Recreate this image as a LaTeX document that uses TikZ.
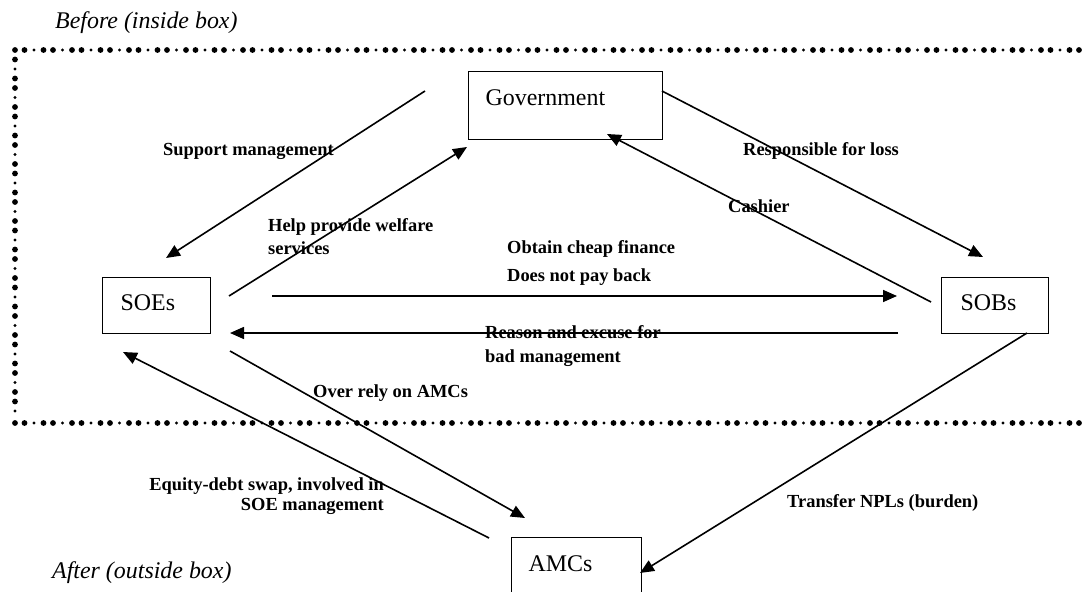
\documentclass[tikz,border=0pt]{standalone}
\usepackage{fontspec}
\setmainfont{Liberation Serif}
\usetikzlibrary{arrows.meta}

\tikzset{
    box/.style={draw, line width=1.3bp, anchor=north west, inner ysep=0pt, align=left,
        font=\fontsize{24}{28}\selectfont},
    lbl/.style={font=\fontsize{18.5}{23}\selectfont\bfseries, inner sep=0pt},
    note/.style={font=\fontsize{24}{28}\selectfont\itshape, inner sep=0pt, anchor=west},
    arr/.style={-{Triangle[length=14bp,width=12bp]}, line width=1.6bp},
}

\begin{document}
\begin{tikzpicture}[x=1bp, y=-1bp]
    \clip (0,0) rectangle (1086,592);

    % frame for "before": two big dots, one small dot
    \foreach \i in {0,...,113} {
        \pgfmathsetmacro\r{ifthenelse(mod(\i,3)==2,1.7,2.9)}
        \fill (15+9.5*\i,50) circle[radius=\r bp];
        \fill (15+9.5*\i,423) circle[radius=\r bp];
    }
    \foreach \i in {1,...,38} {
        \pgfmathsetmacro\r{ifthenelse(mod(\i,3)==2,1.7,2.9)}
        \fill (15,50+9.5*\i) circle[radius=\r bp];
    }
    \node[note] (before) at (55,23) {Before (inside box)};
    \node[note] (after) at (52,573) {After (outside box)};

    % boxes
    \node[box, minimum width=194bp, inner xsep=17bp, text width=160bp, text height=34bp, text depth=34bp] (gov) at (468,71) {Government};
    \node[box, minimum width=108bp, inner xsep=18bp, text width=72bp, text height=33bp, text depth=23bp] (soe) at (102,277) {SOEs};
    \node[box, minimum width=107bp, inner xsep=19bp, text width=69bp, text height=33bp, text depth=23bp] (sob) at (941,277) {SOBs};
    \node[box, minimum width=130bp, inner xsep=17bp, text width=96bp, text height=34bp, text depth=46bp] (amc) at (511,537) {AMCs};

    % loose ends of the arrows
    \coordinate (sup-a) at (425,91);   \coordinate (sup-b) at (166,258);
    \coordinate (help-a) at (229,296); \coordinate (help-b) at (467,147);
    \coordinate (loss-a) at (662,91);  \coordinate (loss-b) at (983,257);
    \coordinate (cash-a) at (931,302); \coordinate (cash-b) at (607,134);
    \coordinate (fin-a) at (272,296);  \coordinate (fin-b) at (897,296);
    \coordinate (bad-a) at (898,333);  \coordinate (bad-b) at (230,333);
    \coordinate (rely-a) at (230,351); \coordinate (rely-b) at (525,518);
    \coordinate (swap-a) at (489,538); \coordinate (swap-b) at (123,352);
    \coordinate (npl-a) at (1027,333); \coordinate (npl-b) at (640,573);

    \draw[arr] (sup-a) -- (sup-b);
    \draw[arr] (help-a) -- (help-b);
    \draw[arr] (loss-a) -- (loss-b);
    \draw[arr] (cash-a) -- (cash-b);
    \draw[arr] (fin-a) -- (fin-b);
    \draw[arr] (bad-a) -- (bad-b);
    \draw[arr] (rely-a) -- (rely-b);
    \draw[arr] (swap-a) -- (swap-b);
    \draw[arr] (npl-a) -- (npl-b);

    % labels
    \node[lbl, anchor=west] (supl) at (163,151) {Support management};
    \node[lbl, anchor=west, align=left] (helpl) at (268,236.5) {Help provide welfare\\services};
    \node[lbl, anchor=west] (lossl) at (743,151) {Responsible for loss};
    \node[lbl, anchor=west] (cashl) at (728,206) {Cashier};
    \node[lbl, anchor=west, align=left, font=\fontsize{18.5}{28}\selectfont\bfseries] (finl) at (507,263) {Obtain cheap finance\\Does not pay back};
    \node[lbl, anchor=west, align=left, font=\fontsize{18.5}{24}\selectfont\bfseries] (badl) at (485,346) {Reason and excuse for\\bad management};
    \node[lbl, anchor=west] (relyl) at (313,393) {Over rely on AMCs};
    \node[lbl, anchor=east, align=right, font=\fontsize{18.5}{20}\selectfont\bfseries] (swapl) at (384,496) {Equity-debt swap, involved in\\SOE management};
    \node[lbl, anchor=west] (npll) at (787,503) {Transfer NPLs (burden)};
\end{tikzpicture}
\end{document}
